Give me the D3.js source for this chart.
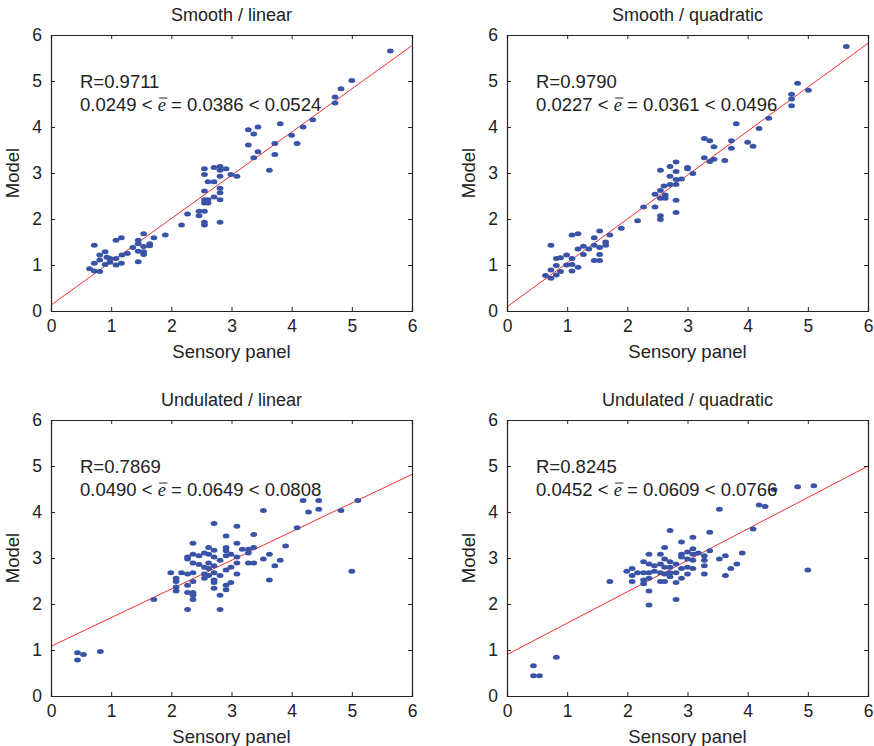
<!DOCTYPE html>
<html>
<head>
<meta charset="utf-8">
<script src="https://cdn.jsdelivr.net/npm/d3@7"></script>
<style>
  body { margin: 0; background: #fff; }
  svg text { font-family: "Liberation Sans", Arial, Helvetica, sans-serif; fill: #222; }
</style>
</head>
<body>
<svg id="chart" width="874" height="746"></svg>
<script>
// ── Data ────────────────────────────────────────────────────────────
const titles = ['Smooth / linear', 'Smooth / quadratic', 'Undulated / linear', 'Undulated / quadratic'];
const rValues = ['0.9711', '0.9790', '0.7869', '0.8245'];
const errLow = ['0.0249', '0.0227', '0.0490', '0.0452'];
const errMean = ['0.0386', '0.0361', '0.0649', '0.0609'];
const errHigh = ['0.0524', '0.0496', '0.0808', '0.0766'];
const fitIntercept = [0.13, 0.09, 1.08, 0.90];
const fitSlope = [0.94, 0.955, 0.623, 0.683];
const ticks = [0, 1, 2, 3, 4, 5, 6];

const smoothLinearX = [5.64, 5.00, 4.82, 4.72, 4.72, 4.35, 4.19, 4.00, 4.09, 3.81, 3.72, 3.72, 3.63, 3.44, 3.37, 3.28, 3.28, 3.44, 3.37, 3.09,
  2.99, 2.91, 2.81, 2.71, 2.81, 2.81, 2.71, 2.61, 2.81, 2.81, 2.81, 2.71, 2.55, 2.55, 2.55, 2.55, 2.61, 2.55, 2.61, 2.46,
  2.55, 2.46, 2.55, 2.55, 2.81, 2.27, 2.17, 1.90, 1.71, 1.54, 1.64, 1.64, 1.54, 1.54, 1.54, 1.45, 1.45, 1.45, 1.45, 1.36,
  1.27, 1.18, 1.17, 1.08, 1.17, 1.08, 0.98, 0.98, 0.90, 0.81, 0.90, 0.81, 0.72, 0.72, 0.64, 0.72, 0.81, 1.08, 0.93];
const smoothLinearY = [5.65, 5.01, 4.83, 4.65, 4.52, 4.16, 4.00, 3.82, 3.64, 4.07, 3.64, 3.40, 3.06, 4.00, 3.85, 3.94, 3.61, 3.46, 3.33, 2.93,
  2.97, 3.09, 3.14, 3.12, 3.06, 2.93, 2.81, 2.81, 2.67, 2.57, 2.42, 2.48, 3.09, 2.97, 2.61, 2.42, 2.42, 2.35, 2.35, 2.17,
  2.17, 2.07, 1.93, 1.87, 1.93, 2.11, 1.87, 1.65, 1.59, 1.68, 1.46, 1.42, 1.40, 1.29, 1.23, 1.54, 1.46, 1.30, 1.07, 1.38,
  1.25, 1.22, 1.59, 1.54, 1.04, 1.00, 1.14, 1.06, 1.29, 1.22, 1.01, 1.11, 1.43, 1.04, 0.92, 0.87, 0.86, 1.14, 1.17];

const smoothQuadX = [5.64, 4.83, 5.01, 4.73, 4.73, 4.73, 4.35, 4.19, 3.81, 3.73, 3.73, 4.00, 4.09, 3.62, 3.28, 3.37, 3.44, 3.28, 3.44, 3.37,
  3.00, 3.00, 3.09, 2.90, 2.81, 2.71, 2.81, 2.55, 2.71, 2.81, 2.81, 2.71, 2.61, 2.55, 2.63, 2.55, 2.63, 2.46, 2.46, 2.27,
  2.81, 2.81, 2.55, 2.55, 2.17, 1.90, 1.71, 1.54, 1.64, 1.64, 1.54, 1.54, 1.54, 1.45, 1.45, 1.45, 1.36, 1.27, 1.27, 1.18,
  1.08, 1.18, 1.18, 1.08, 1.08, 1.08, 0.99, 0.89, 0.82, 0.89, 0.82, 0.82, 0.73, 0.73, 0.64, 0.73, 0.99];
const smoothQuadY = [5.75, 4.95, 4.80, 4.71, 4.61, 4.46, 4.19, 3.97, 4.07, 3.70, 3.54, 3.67, 3.58, 3.27, 3.75, 3.70, 3.57, 3.33, 3.30, 3.25,
  3.12, 3.09, 2.99, 2.87, 3.24, 3.14, 3.03, 3.06, 2.93, 2.86, 2.75, 2.75, 2.72, 2.62, 2.52, 2.45, 2.45, 2.54, 2.26, 2.26,
  2.41, 2.14, 2.07, 1.99, 1.96, 1.80, 1.65, 1.74, 1.50, 1.43, 1.38, 1.23, 1.10, 1.59, 1.43, 1.10, 1.35, 1.41, 1.23, 1.68,
  1.65, 1.35, 0.95, 1.14, 1.01, 0.87, 1.22, 1.16, 1.14, 0.86, 0.99, 0.78, 1.43, 0.89, 0.77, 0.71, 1.00];

const undulLinearX = [5.10, 4.82, 5.00, 4.45, 4.19, 4.45, 4.28, 4.09, 3.90, 3.81, 3.72, 3.63, 3.63, 3.53, 3.53, 3.37, 3.37, 3.37, 3.28, 3.28,
  3.28, 3.18, 3.09, 3.09, 3.09, 3.09, 3.09, 2.99, 2.99, 2.99, 2.91, 2.91, 2.91, 2.91, 2.91, 2.91, 2.91, 2.81, 2.81, 2.81,
  2.81, 2.71, 2.71, 2.71, 2.71, 2.71, 2.71, 2.71, 2.71, 2.62, 2.62, 2.62, 2.62, 2.62, 2.55, 2.55, 2.55, 2.55, 2.46, 2.46,
  2.36, 2.36, 2.36, 2.36, 2.36, 2.36, 2.36, 2.36, 2.27, 2.27, 2.27, 2.27, 2.27, 2.27, 2.17, 2.08, 2.08, 2.08, 2.08, 1.99,
  1.71, 0.82, 0.54, 0.44, 0.44];
const undulLinearY = [4.25, 4.03, 2.71, 4.25, 4.25, 4.06, 4.00, 3.66, 3.26, 2.95, 2.83, 3.08, 2.52, 2.98, 4.03, 3.51, 3.23, 2.89, 3.19, 3.11,
  2.89, 3.19, 3.69, 3.32, 3.02, 2.89, 2.65, 3.08, 2.80, 2.47, 3.48, 3.23, 3.16, 3.05, 2.74, 2.41, 2.31, 2.95, 2.62, 2.19,
  1.88, 3.75, 3.17, 3.02, 2.83, 2.68, 2.52, 2.47, 2.34, 3.23, 3.08, 2.89, 2.77, 2.62, 3.11, 2.80, 2.65, 2.56, 3.05, 2.86,
  3.32, 3.08, 2.89, 2.68, 2.49, 2.25, 2.19, 2.10, 3.02, 2.98, 2.65, 2.41, 2.25, 1.88, 2.68, 2.56, 2.49, 2.37, 2.28, 2.68,
  2.10, 0.97, 0.90, 0.94, 0.78];

const undulQuadX = [5.10, 4.83, 4.44, 5.00, 4.19, 4.29, 4.09, 3.91, 3.82, 3.72, 3.63, 3.63, 3.53, 3.53, 3.37, 3.37, 3.28, 3.28, 3.28, 3.28,
  3.18, 3.09, 3.09, 3.09, 3.09, 3.09, 3.00, 3.00, 3.00, 3.00, 2.90, 2.90, 2.90, 2.90, 2.90, 2.81, 2.81, 2.81, 2.81, 2.71,
  2.71, 2.71, 2.71, 2.71, 2.62, 2.62, 2.62, 2.62, 2.62, 2.55, 2.55, 2.55, 2.55, 2.45, 2.45, 2.36, 2.36, 2.36, 2.36, 2.36,
  2.36, 2.27, 2.27, 2.27, 2.27, 2.17, 2.08, 2.08, 2.08, 1.99, 1.71, 0.82, 0.44, 0.44, 0.54];
const undulQuadY = [4.57, 4.55, 4.49, 2.74, 4.15, 4.12, 3.63, 3.11, 2.87, 2.77, 3.05, 2.62, 2.98, 4.06, 3.56, 3.16, 3.05, 2.95, 2.83, 2.65,
  3.11, 3.45, 3.20, 3.08, 2.95, 2.77, 3.13, 2.98, 2.80, 2.65, 3.35, 3.08, 3.02, 2.77, 2.56, 2.87, 2.68, 2.47, 2.10, 3.60,
  2.92, 2.80, 2.68, 2.59, 3.23, 2.98, 2.80, 2.65, 2.49, 3.08, 2.87, 2.68, 2.49, 2.83, 2.71, 3.08, 2.87, 2.68, 2.56, 2.28,
  1.98, 2.92, 2.68, 2.52, 2.44, 2.68, 2.77, 2.62, 2.49, 2.71, 2.49, 0.84, 0.66, 0.44, 0.44];

const seriesX = [smoothLinearX, smoothQuadX, undulLinearX, undulQuadX];
const seriesY = [smoothLinearY, smoothQuadY, undulLinearY, undulQuadY];

// ── Layout ──────────────────────────────────────────────────────────
const PANEL_LEFT = [51, 507];
const PANEL_WIDTH = 361;
const PANEL_TOP = [35, 420];
const PANEL_HEIGHT = 276;
const TICK_LEN = 4;
const DOT_COLOR = '#3953a6';
const LINE_COLOR = '#f03030';

const svg = d3.select('#chart');

titles.forEach((title, i) =>
{
  const left = PANEL_LEFT[i % 2];
  const top = PANEL_TOP[Math.floor(i / 2)];

  const x = d3.scaleLinear().domain([0, 6]).range([left, left + PANEL_WIDTH]);
  const y = d3.scaleLinear().domain([0, 6]).range([top + PANEL_HEIGHT, top]);

  const g = svg.append('g');

  // clip so the fit line stays in the box
  const clipId = `clip${i}`;
  g.append('clipPath').attr('id', clipId)
    .append('rect')
    .attr('x', left).attr('y', top)
    .attr('width', PANEL_WIDTH).attr('height', PANEL_HEIGHT);

  // fit line
  g.append('line')
    .attr('clip-path', `url(#${clipId})`)
    .attr('x1', x(0)).attr('y1', y(fitIntercept[i]))
    .attr('x2', x(6)).attr('y2', y(fitIntercept[i] + 6 * fitSlope[i]))
    .attr('stroke', LINE_COLOR).attr('stroke-width', 1);

  // points
  g.selectAll('.dot')
    .data(seriesX[i].map((v, k) => [v, seriesY[i][k]]))
    .join('ellipse')
    .attr('class', 'dot')
    .attr('cx', (d) => x(d[0]))
    .attr('cy', (d) => y(d[1]))
    .attr('rx', 3.4).attr('ry', 2.5)
    .attr('fill', DOT_COLOR);

  // axes, MATLAB style: ticks inward on all four sides
  const bottomAxis = d3.axisBottom(x).tickValues(ticks).tickSize(-TICK_LEN).tickPadding(9).tickFormat(d3.format('d'));
  const topAxis = d3.axisTop(x).tickValues(ticks).tickSize(-TICK_LEN).tickFormat('');
  const leftAxis = d3.axisLeft(y).tickValues(ticks).tickSize(-TICK_LEN).tickPadding(9).tickFormat(d3.format('d'));
  const rightAxis = d3.axisRight(y).tickValues(ticks).tickSize(-TICK_LEN).tickFormat('');

  const styleAxis = (sel) =>
  {
    sel.select('.domain').attr('stroke', '#222').attr('stroke-width', 1.2);
    sel.selectAll('.tick line').attr('stroke', '#222');
    sel.selectAll('text').style('font-size', '17.5px').attr('fill', '#222');
  };

  g.append('g').attr('transform', `translate(0,${top + PANEL_HEIGHT})`).call(bottomAxis).call(styleAxis);
  g.append('g').attr('transform', `translate(0,${top})`).call(topAxis).call(styleAxis);
  g.append('g').attr('transform', `translate(${left},0)`).call(leftAxis).call(styleAxis);
  g.append('g').attr('transform', `translate(${left + PANEL_WIDTH},0)`).call(rightAxis).call(styleAxis);

  // title and labels
  const cx = left + PANEL_WIDTH / 2;
  g.append('text')
    .attr('x', cx).attr('y', top - 14)
    .attr('text-anchor', 'middle')
    .style('font-size', '18px')
    .text(title);

  g.append('text')
    .attr('x', cx).attr('y', top + PANEL_HEIGHT + 47)
    .attr('text-anchor', 'middle')
    .style('font-size', '18.5px')
    .text('Sensory panel');

  g.append('text')
    .attr('transform', `translate(${left - 32},${top + PANEL_HEIGHT / 2}) rotate(-90)`)
    .attr('text-anchor', 'middle')
    .style('font-size', '18.5px')
    .text('Model');

  // annotation
  const annX = left + 29;
  const annY = top + 76;
  g.append('text')
    .attr('x', annX).attr('y', top + 53)
    .style('font-size', '18.5px')
    .text(`R=${rValues[i]}`);

  const stat = g.append('text')
    .attr('x', annX).attr('y', annY)
    .style('font-size', '18.5px');
  const lead = `${errLow[i]} < `;
  stat.append('tspan').text(lead);
  stat.append('tspan')
    .style('font-family', '"Liberation Serif", "Times New Roman", serif')
    .style('font-style', 'italic')
    .text('e');
  stat.append('tspan').text(` = ${errMean[i]} < ${errHigh[i]}`);

  // bar over the e
  const node = stat.node();
  const eStart = node.getStartPositionOfChar(lead.length).x;
  const eEnd = node.getEndPositionOfChar(lead.length).x;
  g.append('line')
    .attr('x1', eStart + 1.5).attr('x2', eEnd + 1.5)
    .attr('y1', annY - 13).attr('y2', annY - 13)
    .attr('stroke', '#222').attr('stroke-width', 1);
});
</script>
</body>
</html>
